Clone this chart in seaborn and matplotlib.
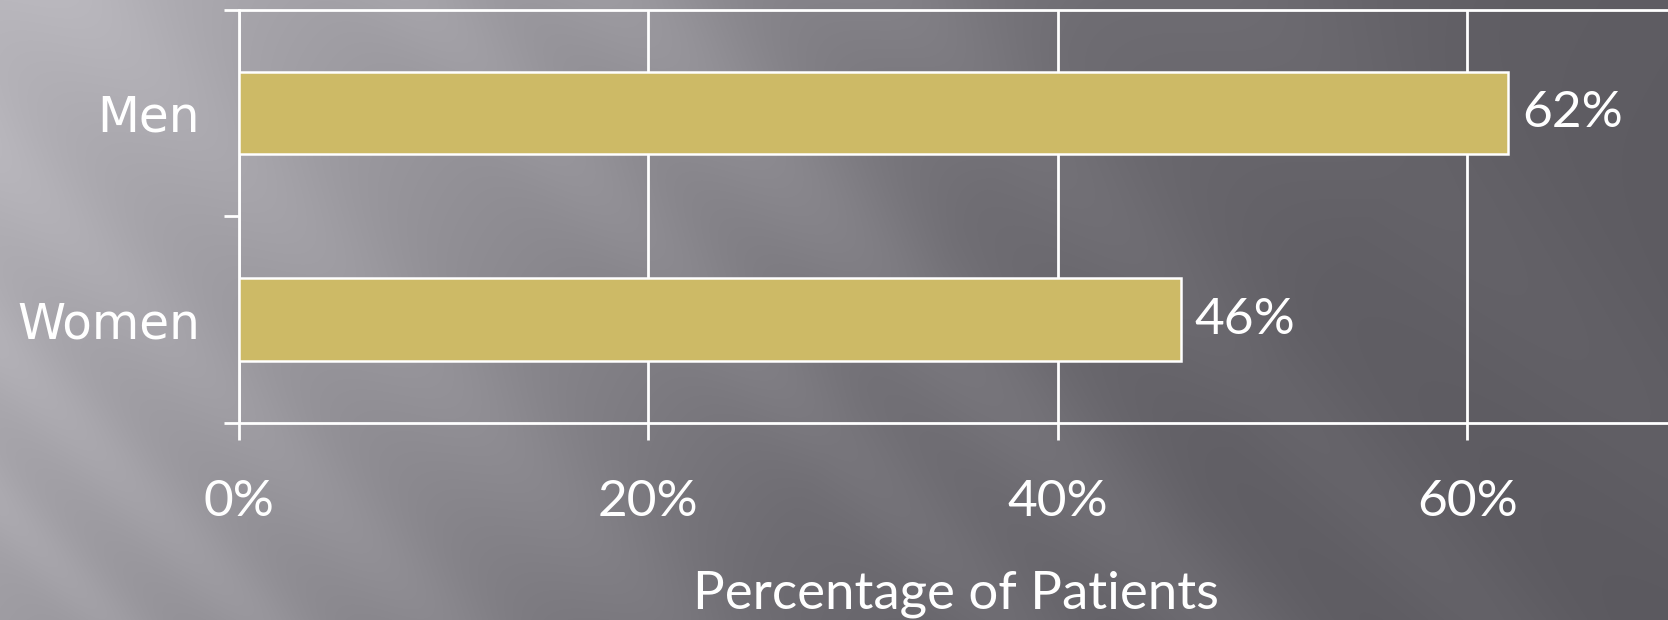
import numpy as np
import pandas as pd
import matplotlib
matplotlib.use("Agg")
import matplotlib.pyplot as plt
import seaborn as sns
from matplotlib.ticker import FixedLocator

# Chart data
groups = ["Men", "Women"]
percent_patients = [62, 46]
x_ticks = [0, 20, 40, 60]
x_tick_labels = ["0%", "20%", "40%", "60%"]
value_labels = ["62%", "46%"]
x_label = "Percentage of Patients"

BAR_COLOR = "#CDBA66"
WHITE = "#FFFFFF"

sns.set_theme(style="white")
plt.rcParams["font.family"] = ["Lato", "DejaVu Sans"]

W, H = 1668, 620
fig = plt.figure(figsize=(W / 100, H / 100), dpi=100)

# Brushed grey backdrop: lighter towards the top left, darker on the right,
# with soft diagonal light streaks.
bg = fig.add_axes([0, 0, 1, 1], zorder=0)
yy, xx = np.mgrid[0:H, 0:W].astype(float)
base = np.interp(xx + 0.6 * yy, [0, 300, 700, 1100, 1500, 2100],
                 [182, 163, 138, 110, 96, 90])
u = xx - 0.95 * yy
streaks = np.zeros_like(u)
for c, w, a in [(-480, 40, 9), (-330, 50, 10), (-150, 60, 8), (80, 80, 8),
                (420, 70, 10), (620, 90, 13), (900, 80, 7), (1250, 120, 5)]:
    streaks += a * np.exp(-((u - c) / w) ** 2)
v = base + streaks
img = np.stack([v, v - 2, v + 4], axis=-1)
img = np.clip(img, 0, 255) / 255.0
bg.imshow(img, aspect="auto", extent=[0, 1, 0, 1], origin="upper")
bg.set_axis_off()

ax = fig.add_axes([239 / W, 1 - 423 / H, (1672 - 239) / W, (423 - 9.6) / H], zorder=1)
ax.set_facecolor("none")

df = pd.DataFrame({"group": groups, "pct": percent_patients})
sns.barplot(data=df, x="pct", y="group", orient="h", color=BAR_COLOR,
            saturation=1, width=0.4, edgecolor=WHITE, linewidth=1.8, ax=ax,
            zorder=3)

ax.set_xlim(0, 70)
ax.set_ylim(1.5, -0.5)

# Vertical white gridlines behind the bars
ax.set_axisbelow(True)
ax.xaxis.grid(True, color=WHITE, linewidth=2)
ax.yaxis.grid(False)

for side in ["left", "bottom", "top"]:
    ax.spines[side].set_visible(True)
    ax.spines[side].set_color(WHITE)
    ax.spines[side].set_linewidth(2)
ax.spines["right"].set_visible(False)

ax.set_xticks(x_ticks)
ax.set_xticklabels(x_tick_labels)
ax.tick_params(axis="x", which="major", direction="out", length=12, width=2,
               color=WHITE, labelcolor=WHITE, labelsize=37, pad=28,
               bottom=True)

ax.set_yticks(range(len(groups)))
ax.set_yticklabels(groups)
ax.yaxis.set_minor_locator(FixedLocator([-0.5, 0.5, 1.5]))
ax.tick_params(axis="y", which="major", length=0, labelcolor=WHITE,
               labelsize=35, pad=28, left=False,
               labelfontfamily="DejaVu Sans")
ax.tick_params(axis="y", which="minor", direction="out", length=11, width=2,
               color=WHITE, left=True)

ax.set_ylabel("")
ax.set_xlabel(x_label, color=WHITE, fontsize=38)
ax.xaxis.set_label_coords(0.5, -0.357)

ax.bar_label(ax.containers[0], labels=value_labels, padding=10,
             color=WHITE, fontsize=37)

fig.savefig("out.png", dpi=100)
